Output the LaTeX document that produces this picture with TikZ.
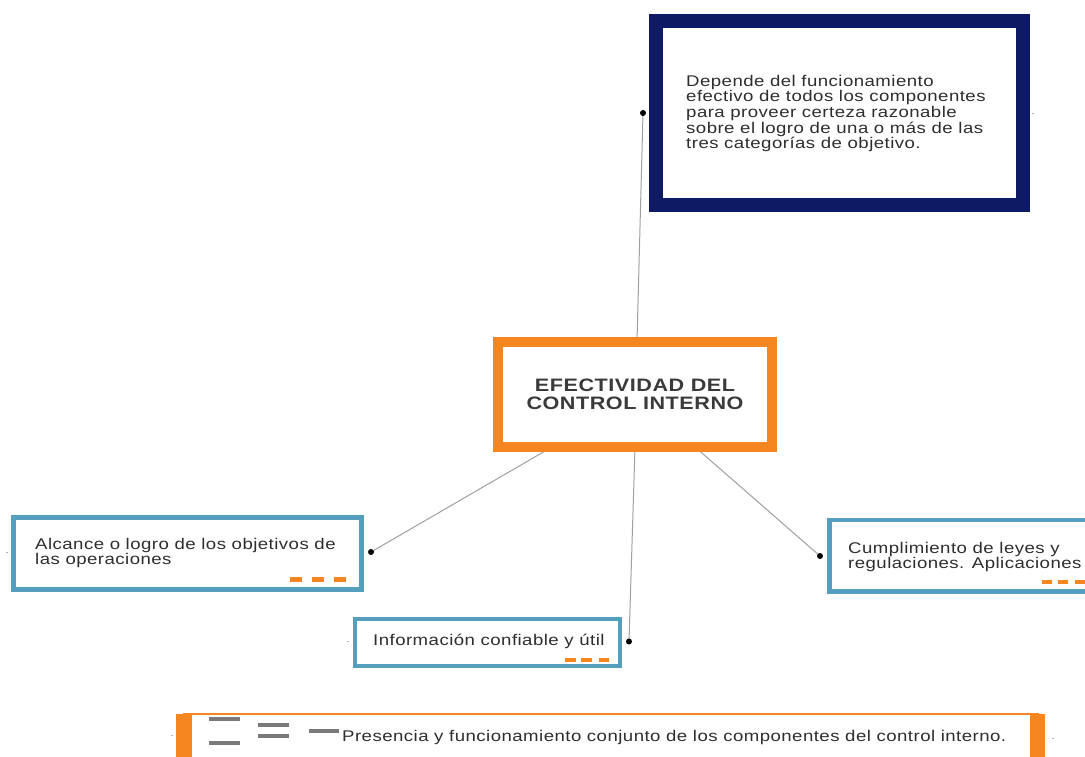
\documentclass[tikz,border=0pt]{standalone}
\usepackage{fontspec}
\setmainfont{Liberation Sans}[FakeStretch=1.2,LetterSpace=3]
\usetikzlibrary{backgrounds}
\definecolor{orng}{HTML}{F5861F}
\definecolor{navy}{HTML}{0F1A64}
\definecolor{steel}{HTML}{559FBE}
\definecolor{linegray}{HTML}{A0A0A0}
\definecolor{txt}{HTML}{2E2E2E}
\definecolor{titletxt}{HTML}{3A3A3A}
\definecolor{icongray}{HTML}{7A7A7A}
\tikzset{
  box/.style={draw, fill=white, inner sep=0pt, outer sep=0pt, rectangle},
  body/.style={font=\fontsize{15.5}{15.7}\selectfont, text=txt, align=left, inner sep=0pt, anchor=west},
  title/.style={font=\bfseries\fontsize{18}{18}\selectfont, text=titletxt, align=center, inner sep=0pt},
  conn/.style={draw=linegray, line width=1pt},
  knob/.style={circle, fill=black, inner sep=0pt, minimum size=6pt},
  tick/.style={fill=black!30, inner sep=0pt, minimum width=2pt, minimum height=1pt},
  dashbig/.style={fill=orng, inner sep=0pt, minimum width=12pt, minimum height=5pt},
  dashsmall/.style={fill=orng, inner sep=0pt, minimum width=10.5pt, minimum height=4.5pt},
  iconline/.style={draw=icongray, line width=3.5pt},
}
\begin{document}
\begin{tikzpicture}[x=1pt,y=-1pt]
\useasboundingbox (0,0) rectangle (1085,756);
\clip (0,0) rectangle (1085,756);

% top box
\node[box, draw=navy, line width=14pt, minimum width=366.5pt, minimum height=184pt] (topbox) at (839.25,112.5) {};
\node[body] (toptext) at (686,113.5) {Depende del funcionamiento\\efectivo de todos los componentes\\para proveer certeza razonable\\sobre el logro de una o más de las\\tres categorías de objetivo.};

% central box
\node[box, draw=orng, line width=10pt, minimum width=274pt, minimum height=105.5pt] (mid) at (635,394.25) {};
\node[title] (midtext) at (635,394) {EFECTIVIDAD DEL\\CONTROL INTERNO};

% Alcance box
\node[box, draw=steel, line width=5pt, minimum width=348pt, minimum height=72pt] (alc) at (187,553.5) {};
\node[body] (alctext) at (35,553) {Alcance o logro de los objetivos de\\las operaciones};
\node[dashbig] (a1) at (296,579) {};
\node[dashbig] (a2) at (318,579) {};
\node[dashbig] (a3) at (340,579) {};

% Informacion box
\node[box, draw=steel, line width=4pt, minimum width=265pt, minimum height=47pt] (info) at (487.5,642.5) {};
\node[body] (infotext) at (373,641) {Información confiable y útil};
\node[dashsmall] (i1) at (570.5,660) {};
\node[dashsmall] (i2) at (586.5,660) {};
\node[dashsmall] (i3) at (604,660) {};

% Cumplimiento box
\node[box, draw=steel, line width=4.5pt, minimum width=270.5pt, minimum height=71.5pt] (cump) at (964.75,555.75) {};
\node[body] (cumptext) at (848,557) {Cumplimiento de leyes y\\regulaciones. Aplicaciones};
\node[dashsmall] (c1) at (1047,582) {};
\node[dashsmall] (c2) at (1063,582) {};
\node[dashsmall] (c3) at (1080,582) {};

% bottom box
\node[box, draw=orng, line width=2pt, minimum width=853.5pt, minimum height=76pt] (bot) at (610.75,752) {};
\draw[orng, line width=16pt] (bot.north west) -- (bot.south west);
\draw[orng, line width=15pt] (bot.north east) -- (bot.south east);
\draw[iconline] (209,719) -- (240,719);
\draw[iconline] (209,743) -- (240,743);
\draw[iconline] (258,725) -- (289,725);
\draw[iconline] (258,736) -- (289,736);
\draw[iconline] (309,731) -- (339,731);
\node[body] (bottext) at (342,737.5) {Presencia y funcionamiento conjunto de los componentes del control interno.};

% knobs
\node[knob] (k1) at (643,113) {};
\node[knob] (k2) at (371,552) {};
\node[knob] (k3) at (629,641.5) {};
\node[knob] (k4) at (820,556) {};

% small ticks
\node[tick] (t1) at (1033,113) {};
\node[tick] (t2) at (7,552) {};
\node[tick] (t3) at (348,641) {};
\node[tick] (t4) at (172,735) {};
\node[tick] (t5) at (1053,738) {};

% connectors
\begin{scope}[on background layer]
\fill[white] (0,0) rectangle (1085,756);
\draw[conn] ([xshift=2pt]mid.north) -- (k1.center);
\draw[conn] ([xshift=-83pt]mid.south) -- (k2.center);
\draw[conn] (mid.south) -- (k3.center);
\draw[conn] ([xshift=60pt]mid.south) -- (k4.center);
\end{scope}
\end{tikzpicture}
\end{document}
